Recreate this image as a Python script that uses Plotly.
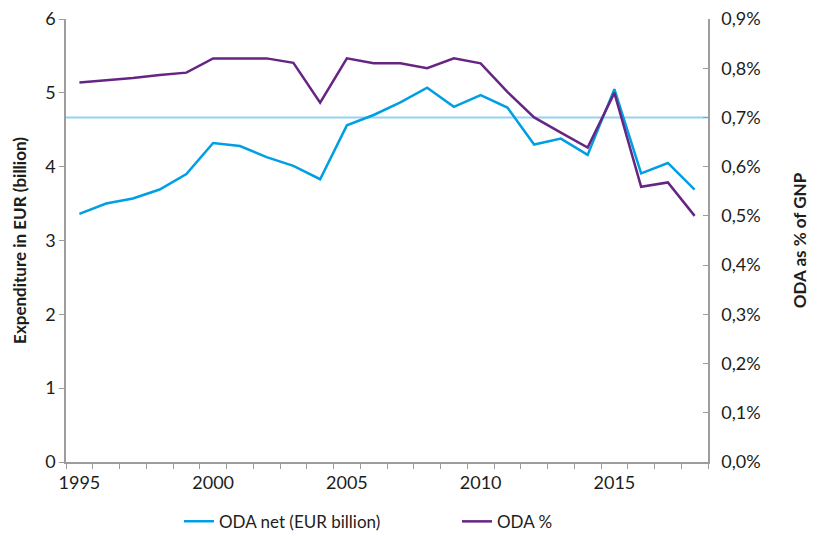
import plotly.graph_objects as go

years = list(range(1995, 2019))
oda_net = [3.36, 3.50, 3.57, 3.69, 3.90, 4.32, 4.28, 4.13, 4.01, 3.83, 4.56, 4.70,
           4.87, 5.07, 4.81, 4.97, 4.80, 4.30, 4.38, 4.16, 5.05, 3.91, 4.05, 3.69]
oda_pct = [0.771, 0.775, 0.780, 0.786, 0.791, 0.820, 0.820, 0.820, 0.811, 0.730, 0.820, 0.810,
           0.810, 0.800, 0.820, 0.810, 0.752, 0.700, 0.669, 0.639, 0.750, 0.559, 0.568, 0.500]
target_pct = 0.7
x_labels = [1995, 2000, 2005, 2010, 2015]
left_ticks = [0, 1, 2, 3, 4, 5, 6]
right_ticks = [0, 0.1, 0.2, 0.3, 0.4, 0.5, 0.6, 0.7, 0.8, 0.9]
right_labels = ["0,0%", "0,1%", "0,2%", "0,3%", "0,4%", "0,5%", "0,6%", "0,7%", "0,8%", "0,9%"]

BLUE = "#009fe3"
PURPLE = "#662483"
LIGHT = "#93d3f2"
GREY = "#9d9d9d"
FONT = "Lato"

fig = go.Figure()
fig.add_trace(go.Scatter(x=years, y=oda_net, mode="lines", name="ODA net (EUR billion)",
                         line=dict(color=BLUE, width=2.5)))
fig.add_trace(go.Scatter(x=years, y=oda_pct, mode="lines", name="ODA %", yaxis="y2",
                         line=dict(color=PURPLE, width=2.5)))

fig.add_shape(type="line", xref="paper", x0=0, x1=1, yref="y2", y0=target_pct, y1=target_pct,
              line=dict(color=LIGHT, width=2), layer="below")

fig.update_layout(
    width=812, height=528,
    margin=dict(l=58, r=112, t=11, b=74, autoexpand=False),
    plot_bgcolor="white", paper_bgcolor="white",
    font=dict(family=FONT, size=18, color="#1d1d1b"),
    xaxis=dict(range=[1994.5, 2018.5], tickvals=x_labels, ticks="", showgrid=False,
               showline=True, linecolor=GREY, linewidth=1.5, zeroline=False, automargin=False,
               ticklabeloverflow="allow", ticklabelstandoff=4,
               minor=dict(tickvals=[y + 0.5 for y in range(1994, 2019)], ticks="outside",
                          ticklen=5, tickcolor=GREY, showgrid=False),
               tickfont=dict(size=18)),
    yaxis=dict(range=[0, 6], tickvals=left_ticks, showgrid=False, zeroline=False,
               showline=True, linecolor=GREY, linewidth=1.5, ticks="outside", ticklen=5,
               tickcolor=GREY, automargin=False, tickfont=dict(size=18),
               ticklabeloverflow="allow",
               title=dict(text="<b>Expenditure in EUR (billion)</b>", font=dict(size=17), standoff=14)),
    yaxis2=dict(range=[0, 0.9], tickvals=right_ticks, ticktext=right_labels, overlaying="y",
                side="right", showgrid=False, zeroline=False, showline=True, linecolor=GREY,
                linewidth=1.5, ticks="inside", ticklen=5, tickcolor=GREY, automargin=False,
                tickfont=dict(size=18), ticklabeloverflow="allow", ticklabelstandoff=8,
                title=dict(text="<b>ODA as % of GNP</b>", font=dict(size=17), standoff=34)),
    legend=dict(orientation="h", x=0.176, xanchor="left", y=-0.135, yanchor="middle",
                font=dict(size=17), itemwidth=30, entrywidth=233, tracegroupgap=0),
    showlegend=True,
)

fig.write_html("out.html")
